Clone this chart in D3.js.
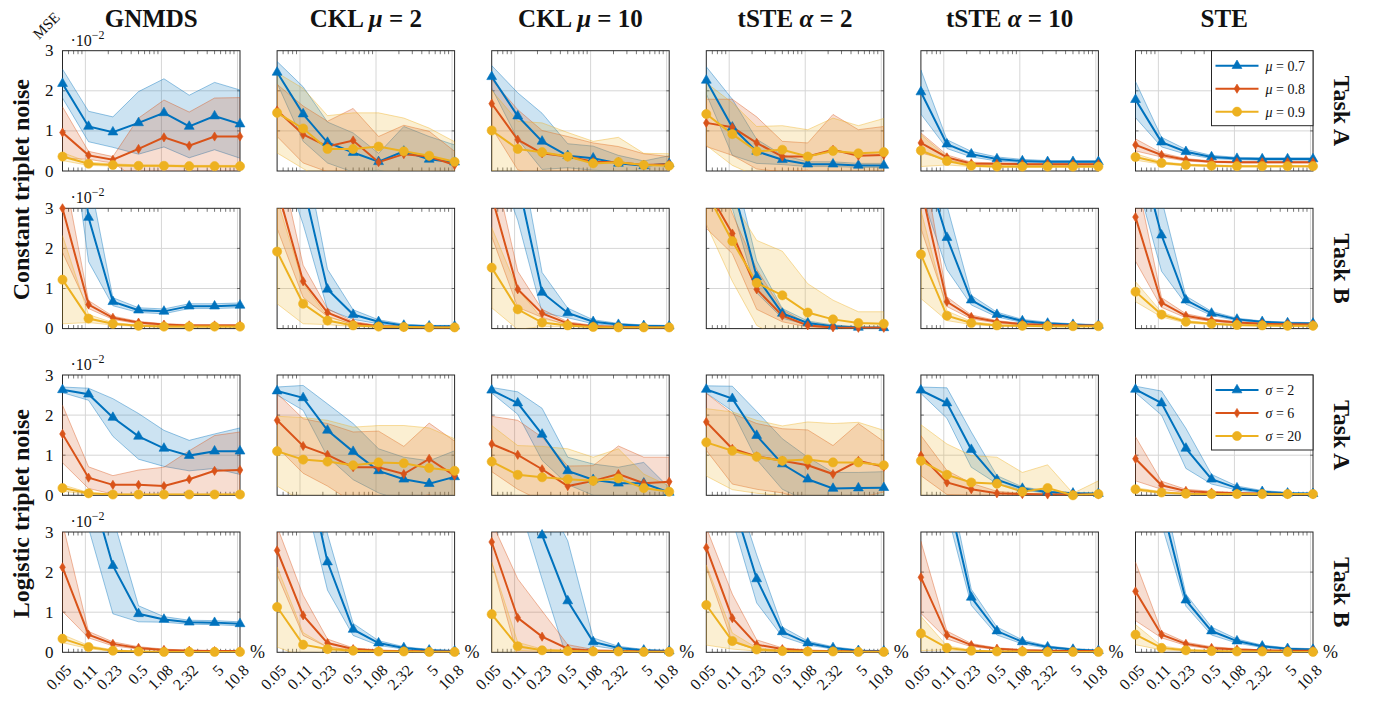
<!DOCTYPE html>
<html>
<head>
<meta charset="utf-8">
<script src="https://cdn.jsdelivr.net/npm/d3@7"></script>
<style>
  body { margin: 0; background: #fff; }
  svg { display: block; }
  text { font-family: "Liberation Serif", "Times New Roman", serif; fill: #111; }
</style>
</head>
<body>
<svg id="chart" width="1378" height="703"></svg>
<script>
// x positions (% of triplets) and their labels
const xValues = [0.05, 0.11, 0.23, 0.5, 1.08, 2.32, 5, 10.8];
const xTickLabels = ["0.05", "0.11", "0.23", "0.5", "1.08", "2.32", "5", "10.8"];
const yTicks = [0, 1, 2, 3];

const methodNames = ["GNMDS", "CKL", "CKL", "tSTE", "tSTE", "STE"];
const methodParams = [null, ["μ", "2"], ["μ", "10"], ["α", "2"], ["α", "10"], null];
const noiseLabels = ["Constant triplet noise", "Logistic triplet noise"];
const taskLabels = ["Task A", "Task B"];
const constantLegend = [["μ", "0.7"], ["μ", "0.8"], ["μ", "0.9"]];
const logisticLegend = [["σ", "2"], ["σ", "6"], ["σ", "20"]];

const colors = ["#0072BD", "#D95319", "#EDB120"];

// MSE values in units of 1e-2: [method][series][x]
const constA_mean = [
  [[2.18, 1.11, 0.97, 1.2, 1.45, 1.11, 1.37, 1.17], [0.96, 0.39, 0.28, 0.55, 0.84, 0.63, 0.86, 0.86], [0.36, 0.18, 0.15, 0.13, 0.13, 0.12, 0.12, 0.12]],
  [[2.46, 1.42, 0.71, 0.46, 0.23, 0.49, 0.29, 0.22], [1.51, 0.91, 0.61, 0.76, 0.22, 0.42, 0.36, 0.15], [1.45, 1.06, 0.55, 0.55, 0.61, 0.49, 0.38, 0.23]],
  [[2.35, 1.37, 0.74, 0.38, 0.32, 0.19, 0.13, 0.18], [1.68, 0.78, 0.44, 0.36, 0.23, 0.22, 0.15, 0.17], [1.01, 0.55, 0.47, 0.36, 0.19, 0.22, 0.15, 0.13]],
  [[2.26, 1.09, 0.49, 0.28, 0.17, 0.17, 0.14, 0.14], [1.2, 1.09, 0.7, 0.36, 0.36, 0.53, 0.38, 0.4], [1.42, 0.92, 0.49, 0.53, 0.36, 0.5, 0.44, 0.47]],
  [[1.97, 0.67, 0.42, 0.3, 0.25, 0.23, 0.23, 0.23], [0.7, 0.34, 0.19, 0.18, 0.17, 0.17, 0.17, 0.17], [0.51, 0.25, 0.13, 0.11, 0.11, 0.11, 0.11, 0.11]],
  [[1.78, 0.72, 0.48, 0.35, 0.31, 0.3, 0.3, 0.3], [0.65, 0.4, 0.28, 0.23, 0.22, 0.22, 0.22, 0.22], [0.35, 0.2, 0.15, 0.13, 0.12, 0.12, 0.12, 0.12]]
];
const constA_sd = [
  [[0.36, 0.38, 0.38, 0.78, 0.85, 0.78, 0.84, 0.85], [0.64, 0.1, 0.08, 0.77, 0.93, 0.84, 0.96, 0.97], [0.1, 0.04, 0.03, 0.02, 0.02, 0.02, 0.02, 0.02]],
  [[0.27, 0.68, 0.51, 0.49, 0.21, 0.62, 0.57, 0.43], [0.65, 0.71, 0.63, 0.8, 0.64, 0.72, 0.63, 0.34], [1.0, 1.0, 0.83, 0.9, 0.84, 0.83, 0.69, 0.5]],
  [[0.28, 0.58, 0.7, 0.3, 0.3, 0.2, 0.12, 0.2], [0.6, 0.75, 0.57, 0.5, 0.47, 0.39, 0.28, 0.19], [1.0, 0.69, 0.73, 0.6, 0.55, 0.62, 0.29, 0.3]],
  [[0.34, 0.7, 0.3, 0.12, 0.06, 0.06, 0.05, 0.05], [0.59, 0.7, 0.65, 0.38, 0.34, 0.88, 0.65, 0.71], [0.78, 0.78, 0.62, 0.6, 0.67, 0.82, 0.69, 0.84]],
  [[0.55, 0.11, 0.07, 0.05, 0.04, 0.03, 0.03, 0.03], [0.25, 0.06, 0.03, 0.02, 0.02, 0.02, 0.02, 0.02], [0.4, 0.1, 0.02, 0.02, 0.02, 0.02, 0.02, 0.02]],
  [[0.45, 0.12, 0.06, 0.04, 0.03, 0.03, 0.03, 0.03], [0.15, 0.05, 0.03, 0.02, 0.02, 0.02, 0.02, 0.02], [0.08, 0.03, 0.02, 0.02, 0.02, 0.02, 0.02, 0.02]]
];

const constB_mean = [
  [[8, 2.77, 0.67, 0.46, 0.43, 0.56, 0.56, 0.58], [3.0, 0.6, 0.27, 0.15, 0.1, 0.08, 0.08, 0.08], [1.22, 0.25, 0.12, 0.07, 0.05, 0.05, 0.05, 0.05]],
  [[6, 3.6, 0.98, 0.35, 0.17, 0.08, 0.06, 0.06], [3.5, 1.18, 0.4, 0.14, 0.06, 0.04, 0.03, 0.03], [1.92, 0.62, 0.2, 0.08, 0.05, 0.04, 0.03, 0.03]],
  [[6, 3.7, 0.9, 0.39, 0.17, 0.1, 0.07, 0.06], [3.3, 0.98, 0.38, 0.13, 0.06, 0.04, 0.03, 0.03], [1.52, 0.48, 0.15, 0.08, 0.04, 0.03, 0.03, 0.03]],
  [[5.5, 3.6, 1.29, 0.38, 0.14, 0.06, 0.03, 0.02], [3.5, 2.37, 0.98, 0.32, 0.08, 0.03, 0.02, 0.02], [3.4, 2.18, 1.14, 0.83, 0.4, 0.23, 0.14, 0.12]],
  [[4.4, 2.27, 0.71, 0.35, 0.19, 0.13, 0.1, 0.08], [3.5, 0.67, 0.29, 0.17, 0.11, 0.09, 0.08, 0.08], [1.85, 0.32, 0.14, 0.08, 0.07, 0.06, 0.06, 0.06]],
  [[4.8, 2.33, 0.71, 0.38, 0.23, 0.17, 0.14, 0.13], [2.78, 0.65, 0.32, 0.21, 0.15, 0.12, 0.11, 0.1], [0.92, 0.35, 0.17, 0.12, 0.09, 0.08, 0.07, 0.07]]
];
const constB_sd = [
  [[1.5, 1.1, 0.1, 0.06, 0.06, 0.06, 0.06, 0.06], [1.1, 0.1, 0.04, 0.03, 0.02, 0.02, 0.02, 0.02], [1.1, 0.1, 0.03, 0.02, 0.02, 0.02, 0.02, 0.02]],
  [[1.5, 1.0, 0.5, 0.12, 0.05, 0.03, 0.02, 0.02], [1.0, 0.4, 0.1, 0.04, 0.02, 0.02, 0.01, 0.01], [1.3, 0.5, 0.1, 0.03, 0.02, 0.02, 0.01, 0.01]],
  [[1.5, 1.0, 0.5, 0.12, 0.05, 0.03, 0.02, 0.02], [1.0, 0.45, 0.1, 0.04, 0.02, 0.02, 0.01, 0.01], [1.0, 0.5, 0.1, 0.03, 0.02, 0.02, 0.01, 0.01]],
  [[1.0, 0.6, 0.4, 0.12, 0.05, 0.03, 0.02, 0.02], [1.0, 0.5, 0.5, 0.15, 0.04, 0.02, 0.01, 0.01], [0.8, 1.0, 1.06, 1.1, 0.72, 0.48, 0.28, 0.3]],
  [[1.0, 0.8, 0.12, 0.06, 0.04, 0.03, 0.02, 0.02], [1.0, 0.12, 0.05, 0.03, 0.02, 0.02, 0.02, 0.02], [1.1, 0.12, 0.04, 0.02, 0.02, 0.02, 0.02, 0.02]],
  [[1.0, 0.9, 0.1, 0.05, 0.03, 0.02, 0.02, 0.02], [1.1, 0.12, 0.05, 0.03, 0.02, 0.02, 0.02, 0.02], [0.25, 0.06, 0.03, 0.02, 0.02, 0.02, 0.02, 0.02]]
];

const logA_mean = [
  [[2.63, 2.52, 1.94, 1.47, 1.17, 0.99, 1.1, 1.1], [1.53, 0.44, 0.26, 0.26, 0.23, 0.4, 0.61, 0.63], [0.18, 0.05, 0.02, 0.02, 0.02, 0.02, 0.02, 0.02]],
  [[2.6, 2.43, 1.62, 1.09, 0.61, 0.4, 0.29, 0.46], [1.87, 1.23, 1.01, 0.7, 0.7, 0.53, 0.91, 0.49], [1.1, 0.89, 0.84, 0.75, 0.82, 0.8, 0.68, 0.61]],
  [[2.62, 2.3, 1.52, 0.61, 0.39, 0.3, 0.3, 0.07], [1.28, 1.01, 0.65, 0.23, 0.36, 0.53, 0.3, 0.34], [0.84, 0.51, 0.45, 0.4, 0.36, 0.42, 0.18, 0.09]],
  [[2.64, 2.41, 1.49, 0.78, 0.4, 0.17, 0.18, 0.19], [1.83, 1.16, 0.97, 0.86, 0.75, 0.53, 0.86, 0.71], [1.32, 1.11, 0.96, 0.86, 0.89, 0.82, 0.82, 0.75]],
  [[2.62, 2.3, 1.14, 0.39, 0.17, 0.08, 0.05, 0.04], [0.99, 0.32, 0.15, 0.05, 0.03, 0.02, 0.02, 0.02], [0.86, 0.51, 0.32, 0.29, 0.09, 0.18, 0.0, 0.03]],
  [[2.64, 2.3, 1.17, 0.4, 0.18, 0.09, 0.05, 0.04], [0.91, 0.25, 0.11, 0.07, 0.05, 0.04, 0.03, 0.03], [0.15, 0.07, 0.04, 0.03, 0.03, 0.03, 0.03, 0.03]]
];
const logA_sd = [
  [[0.07, 0.15, 0.47, 0.57, 0.45, 0.38, 0.43, 0.58], [0.72, 0.27, 0.23, 0.37, 0.47, 0.71, 0.88, 0.95], [0.08, 0.02, 0.01, 0.01, 0.01, 0.01, 0.01, 0.01]],
  [[0.1, 0.31, 0.66, 0.7, 0.55, 0.55, 0.57, 0.65], [0.67, 0.68, 0.78, 0.88, 0.9, 0.69, 0.89, 0.86], [0.87, 1.05, 1.03, 0.95, 0.92, 0.94, 1.0, 0.8]],
  [[0.07, 0.28, 0.65, 0.34, 0.39, 0.4, 0.52, 0.12], [0.69, 0.86, 0.8, 0.5, 0.38, 0.7, 0.65, 0.61], [0.9, 0.73, 0.77, 0.76, 0.59, 0.74, 0.35, 0.14]],
  [[0.09, 0.31, 0.6, 0.63, 0.55, 0.4, 0.39, 0.4], [0.71, 0.88, 0.82, 0.8, 0.88, 0.71, 0.93, 0.63], [0.84, 0.97, 0.91, 0.87, 0.94, 0.97, 1.0, 0.87]],
  [[0.08, 0.38, 0.44, 0.1, 0.04, 0.03, 0.02, 0.02], [0.5, 0.3, 0.15, 0.05, 0.02, 0.01, 0.01, 0.01], [0.9, 0.77, 0.67, 0.66, 0.48, 0.58, 0.05, 0.33]],
  [[0.08, 0.3, 0.5, 0.12, 0.05, 0.03, 0.02, 0.02], [0.55, 0.1, 0.04, 0.03, 0.02, 0.02, 0.01, 0.01], [0.04, 0.02, 0.01, 0.01, 0.01, 0.01, 0.01, 0.01]]
];

const logB_mean = [
  [[6, 4.3, 2.16, 0.96, 0.82, 0.75, 0.74, 0.71], [2.12, 0.44, 0.21, 0.11, 0.06, 0.04, 0.03, 0.03], [0.34, 0.13, 0.04, 0.02, 0.01, 0.01, 0.01, 0.01]],
  [[8, 5.04, 2.25, 0.57, 0.23, 0.11, 0.05, 0.03], [2.54, 0.92, 0.23, 0.08, 0.04, 0.03, 0.02, 0.02], [1.13, 0.19, 0.08, 0.04, 0.02, 0.02, 0.01, 0.01]],
  [[8, 5, 2.92, 1.28, 0.26, 0.11, 0.05, 0.03], [2.75, 0.86, 0.39, 0.09, 0.04, 0.03, 0.02, 0.02], [0.95, 0.15, 0.05, 0.03, 0.02, 0.02, 0.01, 0.01]],
  [[6, 3.8, 1.83, 0.51, 0.23, 0.11, 0.04, 0.03], [2.61, 0.85, 0.19, 0.08, 0.04, 0.03, 0.02, 0.02], [1.18, 0.28, 0.07, 0.03, 0.02, 0.02, 0.01, 0.01]],
  [[6, 4.0, 1.37, 0.53, 0.26, 0.13, 0.07, 0.04], [1.87, 0.43, 0.18, 0.09, 0.05, 0.04, 0.03, 0.03], [0.47, 0.11, 0.04, 0.02, 0.02, 0.01, 0.01, 0.01]],
  [[6, 3.7, 1.3, 0.53, 0.28, 0.15, 0.09, 0.07], [1.52, 0.44, 0.21, 0.11, 0.07, 0.05, 0.04, 0.04], [0.44, 0.11, 0.05, 0.03, 0.02, 0.02, 0.01, 0.01]]
];
const logB_sd = [
  [[1.5, 1.2, 1.2, 0.2, 0.07, 0.05, 0.05, 0.05], [1.1, 0.08, 0.05, 0.03, 0.02, 0.01, 0.01, 0.01], [0.1, 0.04, 0.02, 0.01, 0.01, 0.01, 0.01, 0.01]],
  [[1.5, 1.0, 0.7, 0.15, 0.06, 0.03, 0.02, 0.01], [0.6, 0.5, 0.1, 0.03, 0.02, 0.01, 0.01, 0.01], [1.0, 0.3, 0.05, 0.02, 0.01, 0.01, 0.01, 0.01]],
  [[1.5, 1.2, 1.1, 1.5, 0.1, 0.04, 0.02, 0.01], [0.5, 0.97, 0.64, 0.1, 0.03, 0.02, 0.01, 0.01], [1.3, 0.1, 0.03, 0.02, 0.01, 0.01, 0.01, 0.01]],
  [[1.5, 0.5, 0.6, 0.12, 0.05, 0.03, 0.02, 0.01], [0.5, 0.6, 0.12, 0.03, 0.02, 0.01, 0.01, 0.01], [1.0, 0.2, 0.04, 0.02, 0.01, 0.01, 0.01, 0.01]],
  [[1.5, 0.5, 0.2, 0.1, 0.05, 0.03, 0.02, 0.02], [0.9, 0.1, 0.04, 0.02, 0.02, 0.01, 0.01, 0.01], [0.43, 0.05, 0.02, 0.01, 0.01, 0.01, 0.01, 0.01]],
  [[1.5, 0.5, 0.15, 0.1, 0.05, 0.03, 0.02, 0.02], [0.73, 0.08, 0.04, 0.03, 0.02, 0.01, 0.01, 0.01], [0.25, 0.05, 0.02, 0.01, 0.01, 0.01, 0.01, 0.01]]
];

const rows = [
  { mean: constA_mean, sd: constA_sd },
  { mean: constB_mean, sd: constB_sd },
  { mean: logA_mean, sd: logA_sd },
  { mean: logB_mean, sd: logB_sd }
];

// ─────────────────────────────────────────────────────────────
// Layout
// ─────────────────────────────────────────────────────────────

const panelW = 177.5;
const panelH = 120.3;
const colX = d3.range(6).map((i) => 62.5 + i * 214.6);
const rowY = [50.7, 208.3, 375, 532];

const x = d3.scaleLog().domain([0.05, 10.8]).range([0, panelW]);
const y = d3.scaleLinear().domain([0, 3]).range([panelH, 0]);

const minorTicks = [0.06, 0.07, 0.08, 0.09, 0.2, 0.3, 0.4, 0.5, 0.6, 0.7, 0.8, 0.9, 2, 3, 4, 5, 6, 7, 8, 9];
const gridX = [0.1, 1, 10];

const narrowDiamond = {
  draw(ctx, size) {
    const h = Math.sqrt(size) * 0.62;
    const w = h * 0.62;
    ctx.moveTo(0, -h);
    ctx.lineTo(w, 0);
    ctx.lineTo(0, h);
    ctx.lineTo(-w, 0);
    ctx.closePath();
  }
};
const symbols = [
  d3.symbol().type(d3.symbolTriangle).size(42),
  d3.symbol().type(narrowDiamond).size(55),
  d3.symbol().type(d3.symbolCircle).size(66)
];

const svg = d3.select("#chart");
const defs = svg.append("defs");
defs.append("clipPath").attr("id", "panel-clip")
  .append("rect").attr("width", panelW).attr("height", panelH);

function drawPanel(r, c) {
  const g = svg.append("g").attr("transform", `translate(${colX[c]},${rowY[r]})`);
  const means = rows[r].mean[c];
  const sds = rows[r].sd[c];

  // grid
  g.selectAll(".gx").data(gridX).join("line")
    .attr("x1", (d) => x(d)).attr("x2", (d) => x(d))
    .attr("y1", 0).attr("y2", panelH)
    .attr("stroke", "#d6d6d6").attr("stroke-width", 1);
  g.selectAll(".gy").data([1, 2]).join("line")
    .attr("x1", 0).attr("x2", panelW)
    .attr("y1", (d) => y(d)).attr("y2", (d) => y(d))
    .attr("stroke", "#d6d6d6").attr("stroke-width", 1);

  // minor ticks (top and bottom, inward)
  const tk = g.append("g").attr("stroke", "#555").attr("stroke-width", 0.8);
  minorTicks.forEach((t) => {
    tk.append("line").attr("x1", x(t)).attr("x2", x(t)).attr("y1", 0).attr("y2", 3.5);
    tk.append("line").attr("x1", x(t)).attr("x2", x(t)).attr("y1", panelH).attr("y2", panelH - 3.5);
  });
  yTicks.slice(1, 3).forEach((t) => {
    tk.append("line").attr("x1", 0).attr("x2", 3).attr("y1", y(t)).attr("y2", y(t));
    tk.append("line").attr("x1", panelW).attr("x2", panelW - 3).attr("y1", y(t)).attr("y2", y(t));
  });

  g.append("rect").attr("width", panelW).attr("height", panelH)
    .attr("fill", "none").attr("stroke", "#262626").attr("stroke-width", 1);

  const plot = g.append("g").attr("clip-path", "url(#panel-clip)");

  // std bands
  means.forEach((m, s) => {
    const band = m.map((v, i) => ({ lo: v - sds[s][i], hi: v + sds[s][i] }));
    const area = d3.area()
      .x((d, i) => x(xValues[i]))
      .y0((d) => y(d.lo))
      .y1((d) => y(d.hi));
    plot.append("path").datum(band).attr("d", area)
      .attr("fill", colors[s]).attr("fill-opacity", 0.2)
      .attr("stroke", colors[s]).attr("stroke-opacity", 0.45).attr("stroke-width", 0.9);
  });

  // mean lines
  const line = d3.line().x((d, i) => x(xValues[i])).y((d) => y(d));
  means.forEach((m, s) => {
    plot.append("path").datum(m).attr("d", line)
      .attr("fill", "none").attr("stroke", colors[s]).attr("stroke-width", 2);
  });

  // markers (only those inside the axes)
  means.forEach((m, s) => {
    const pts = m.map((v, i) => [xValues[i], v]).filter((d) => d[1] <= 3.05 && d[1] >= -0.05);
    g.selectAll(null).data(pts).join("path")
      .attr("d", symbols[s])
      .attr("transform", (d) => `translate(${x(d[0])},${y(d[1])})`)
      .attr("fill", colors[s]).attr("stroke", colors[s]).attr("stroke-width", 0.6);
  });

  // y axis labels for first column
  if (c === 0) {
    g.selectAll(".yl").data(yTicks).join("text")
      .attr("x", -9).attr("y", (d) => y(d)).attr("dy", "0.33em")
      .attr("text-anchor", "end").attr("font-size", 17)
      .text((d) => d);
    const ex = g.append("text").attr("x", 8).attr("y", -5).attr("font-size", 16);
    ex.append("tspan").text("·10");
    ex.append("tspan").attr("dy", -7).attr("font-size", 12).text("−2");
  }

  // x labels for bottom row
  if (r === 3) {
    g.selectAll(".xl").data(xValues).join("text")
      .attr("transform", (d) => `translate(${x(d) + 10},${panelH + 19}) rotate(-45)`)
      .attr("text-anchor", "end").attr("font-size", 16)
      .text((d, i) => xTickLabels[i]);
    g.append("text").attr("x", panelW + 10).attr("y", panelH + 6)
      .attr("font-size", 18).text("%");
  }
}

d3.range(4).forEach((r) => d3.range(6).forEach((c) => drawPanel(r, c)));

// column titles
methodNames.forEach((name, c) => {
  const t = svg.append("text")
    .attr("x", colX[c] + panelW / 2).attr("y", 27)
    .attr("text-anchor", "middle").attr("font-size", 25).attr("font-weight", "bold");
  t.append("tspan").text(name);
  if (methodParams[c]) {
    t.append("tspan").text(" ");
    t.append("tspan").attr("font-style", "italic").text(methodParams[c][0]);
    t.append("tspan").text(" = " + methodParams[c][1]);
  }
});

// MSE label
svg.append("text")
  .attr("transform", "translate(39,40) rotate(-45)")
  .attr("font-size", 15).text("MSE");

// task labels on the right
rowY.forEach((ry, r) => {
  svg.append("text")
    .attr("transform", `translate(1334,${ry + panelH / 2}) rotate(90)`)
    .attr("text-anchor", "middle").attr("font-size", 24).attr("font-weight", "bold")
    .text(taskLabels[r % 2]);
});

// noise labels on the left
noiseLabels.forEach((lab, k) => {
  const cy = (rowY[2 * k] + rowY[2 * k + 1] + panelH) / 2;
  svg.append("text")
    .attr("transform", `translate(29,${cy}) rotate(-90)`)
    .attr("text-anchor", "middle").attr("font-size", 24).attr("font-weight", "bold")
    .text(lab);
});

// legends
function drawLegend(rowIndex, entries) {
  const lx = colX[5] + panelW - 101.5;
  const ly = rowY[rowIndex];
  const g = svg.append("g").attr("transform", `translate(${lx},${ly})`);
  g.append("rect").attr("width", 101.5).attr("height", 75)
    .attr("fill", "#fff").attr("stroke", "#262626").attr("stroke-width", 1);
  entries.forEach((e, s) => {
    const ey = 15 + s * 23;
    g.append("line").attr("x1", 4).attr("x2", 47).attr("y1", ey).attr("y2", ey)
      .attr("stroke", colors[s]).attr("stroke-width", 2);
    g.append("path").attr("d", symbols[s]).attr("transform", `translate(25.5,${ey})`)
      .attr("fill", colors[s]).attr("stroke", colors[s]).attr("stroke-width", 0.6);
    const t = g.append("text").attr("x", 54).attr("y", ey).attr("dy", "0.35em").attr("font-size", 14);
    t.append("tspan").attr("font-style", "italic").text(e[0]);
    t.append("tspan").text(" = " + e[1]);
  });
}
drawLegend(0, constantLegend);
drawLegend(2, logisticLegend);
</script>
</body>
</html>
